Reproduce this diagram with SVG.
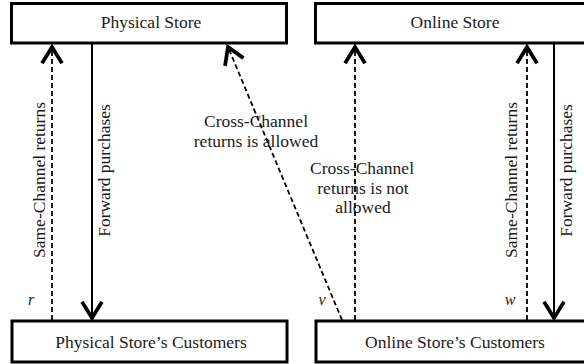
<svg xmlns="http://www.w3.org/2000/svg" width="584" height="364" viewBox="0 0 584 364">
  <style>
    .box { fill: #ffffff; stroke: #000000; stroke-width: 3; }
    .lbl { font-family: "Liberation Serif", "Times New Roman", serif; font-size: 17.5px; fill: #1a1a1a; text-anchor: middle; }
    .var { font-family: "Liberation Serif", "Times New Roman", serif; font-size: 16px; font-style: italic; fill: #1a1a1a; text-anchor: middle; }
    .solid { stroke: #000000; stroke-width: 2; fill: none; }
    .dash { stroke: #000000; stroke-width: 1.8; stroke-dasharray: 5 3; fill: none; }
  </style>
  <defs>
    <marker id="chev" markerUnits="userSpaceOnUse" markerWidth="30" markerHeight="30" viewBox="-16 -12 20 24" refX="0" refY="0" orient="auto" overflow="visible">
      <path d="M -13 -8 L 0 0 L -13 8" fill="none" stroke="#000000" stroke-width="3" stroke-linejoin="miter"/>
    </marker>
  </defs>
  <rect width="584" height="364" fill="#ffffff"/>

  <g id="physical-store">
    <rect class="box" x="11.5" y="3.5" width="275" height="39.5"/>
    <text class="lbl" x="151" y="28">Physical Store</text>
  </g>
  <g id="online-store">
    <rect class="box" x="315.5" y="3.5" width="280" height="39.5"/>
    <text class="lbl" x="455" y="28">Online Store</text>
  </g>
  <g id="physical-customers">
    <rect class="box" x="12" y="321" width="275" height="41"/>
    <text class="lbl" x="151" y="348">Physical Store’s Customers</text>
  </g>
  <g id="online-customers">
    <rect class="box" x="316" y="321" width="280" height="41"/>
    <text class="lbl" x="455" y="348">Online Store’s Customers</text>
  </g>

  <g id="connectors">
    <line class="dash" x1="52" y1="320" x2="52" y2="47" marker-end="url(#chev)"/>
    <line class="solid" x1="92" y1="44" x2="92" y2="318" marker-end="url(#chev)"/>
    <line class="dash" x1="342" y1="320" x2="228" y2="47" marker-end="url(#chev)"/>
    <line class="dash" x1="355" y1="320" x2="355" y2="47" marker-end="url(#chev)"/>
    <line class="dash" x1="527" y1="320" x2="527" y2="47" marker-end="url(#chev)"/>
    <line class="solid" x1="554" y1="44" x2="554" y2="318" marker-end="url(#chev)"/>
  </g>

  <g id="labels">
    <text class="lbl" transform="translate(45,180) rotate(-90)">Same-Channel returns</text>
    <text class="lbl" transform="translate(110,170.5) rotate(-90)">Forward purchases</text>
    <text class="lbl" transform="translate(517,180) rotate(-90)">Same-Channel returns</text>
    <text class="lbl" transform="translate(572,170.5) rotate(-90)">Forward purchases</text>
    <text class="lbl" x="256" y="127">Cross-Channel</text>
    <text class="lbl" x="256" y="147">returns is allowed</text>
    <text class="lbl" x="362" y="174">Cross-Channel</text>
    <text class="lbl" x="363" y="194">returns is not</text>
    <text class="lbl" x="363" y="213">allowed</text>
    <text class="var" x="31" y="305">r</text>
    <text class="var" x="322" y="305">v</text>
    <text class="var" x="510" y="305">w</text>
  </g>
</svg>
